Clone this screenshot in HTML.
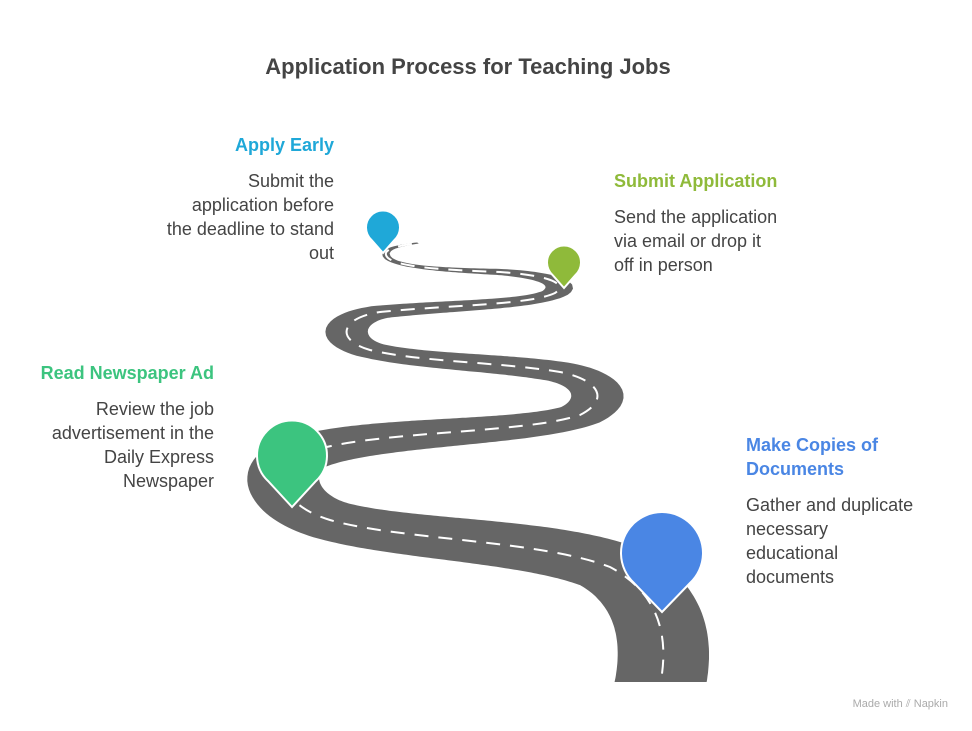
<!DOCTYPE html>
<html><head><meta charset="utf-8"><style>
html,body{margin:0;padding:0;background:#fff;}
svg{display:block;font-family:"Liberation Sans",sans-serif;}
.t{font-size:18px;fill:#444;}
.h{font-size:18px;font-weight:bold;}
</style></head><body>
<svg id="s" width="972" height="731" viewBox="0 0 972 731">
<text x="468" y="74" text-anchor="middle" font-size="22" font-weight="bold" fill="#444">Application Process for Teaching Jobs</text>
<defs><clipPath id="c"><rect x="0" y="0" width="972" height="682"/></clipPath></defs>
<g clip-path="url(#c)">
<polygon id="road" fill="#666" points=""/>
<path id="cl" d="M 650 720 C 672 660, 672 600, 610 567 C 540 540, 400 540, 330 520 C 280 505, 270 470, 300 455 C 360 430, 520 435, 580 415 C 610 400, 600 380, 560 372 C 500 362, 420 362, 370 350 C 335 340, 340 318, 380 312 C 450 305, 530 305, 555 293 C 570 283, 545 275, 500 272 C 450 270, 400 268, 388 258 C 380 250, 395 246, 418 243" fill="none" stroke="#fff" stroke-width="2" stroke-dasharray="14 10"/>
</g>
<g stroke="#fff" stroke-width="2">
<path d="M383 253 L371.5 240 A17 17 0 1 1 394.5 240 Z" fill="#1fa8d8"/>
<path d="M564 288 L552.5 275 A17 17 0 1 1 575.5 275 Z" fill="#8fba3a"/>
<path d="M292 507 L268 481 A35 35 0 1 1 316 481 Z" fill="#3cc47f"/>
<path d="M662 612 L634 583 A41 41 0 1 1 690 583 Z" fill="#4a86e4"/>
</g>
<text x="334" y="151" text-anchor="end" class="h" fill="#1fa8d8">Apply Early</text>
<text x="334" y="187" text-anchor="end" class="t">Submit the</text>
<text x="334" y="211" text-anchor="end" class="t">application before</text>
<text x="334" y="235" text-anchor="end" class="t">the deadline to stand</text>
<text x="334" y="259" text-anchor="end" class="t">out</text>
<text x="614" y="187" class="h" fill="#8fba3a">Submit Application</text>
<text x="614" y="223" class="t">Send the application</text>
<text x="614" y="247" class="t">via email or drop it</text>
<text x="614" y="271" class="t">off in person</text>
<text x="214" y="379" text-anchor="end" class="h" fill="#3cc47f">Read Newspaper Ad</text>
<text x="214" y="415" text-anchor="end" class="t">Review the job</text>
<text x="214" y="439" text-anchor="end" class="t">advertisement in the</text>
<text x="214" y="463" text-anchor="end" class="t">Daily Express</text>
<text x="214" y="487" text-anchor="end" class="t">Newspaper</text>
<text x="746" y="451" class="h" fill="#4a86e4">Make Copies of</text>
<text x="746" y="475" class="h" fill="#4a86e4">Documents</text>
<text x="746" y="511" class="t">Gather and duplicate</text>
<text x="746" y="535" class="t">necessary</text>
<text x="746" y="559" class="t">educational</text>
<text x="746" y="583" class="t">documents</text>
<text x="948" y="707" text-anchor="end" font-size="11" fill="#aaa">Made with ⫽ Napkin</text>
</svg>
<script>
(function(){
var p=document.getElementById('cl'),L=p.getTotalLength();
var keys=[[0,92],[0.12,90],[0.33,72],[0.52,54],[0.66,46],[0.76,40],[0.86,28],[0.95,12],[1,4]];
var kk=[[0,0.55],[0.33,0.5],[0.52,0.42],[0.76,0.3],[1,0.3]];
function ip(ks,f){for(var i=1;i<ks.length;i++){if(f<=ks[i][0]){var a=ks[i-1],b=ks[i],t=(f-a[0])/(b[0]-a[0]);return a[1]+t*(b[1]-a[1]);}}return ks[ks.length-1][1];}
var N=500,left=[],right=[];
for(var i=0;i<=N;i++){var f=i/N,s=L*f,pt=p.getPointAtLength(s),a=p.getPointAtLength(Math.max(0,s-1)),b=p.getPointAtLength(Math.min(L,s+1));
var dx=b.x-a.x,dy=b.y-a.y,m=Math.hypot(dx,dy)||1,nx=-dy/m,ny=dx/m;
var A=ip(keys,f)/2,B=A*ip(kk,f),d=Math.sqrt(A*A*nx*nx+B*B*ny*ny)||1,ox=A*A*nx/d,oy=B*B*ny/d;
left.push((pt.x+ox).toFixed(1)+','+(pt.y+oy).toFixed(1));right.push((pt.x-ox).toFixed(1)+','+(pt.y-oy).toFixed(1));}
document.getElementById('road').setAttribute('points',left.concat(right.reverse()).join(' '));
})();
</script>
</body></html>
